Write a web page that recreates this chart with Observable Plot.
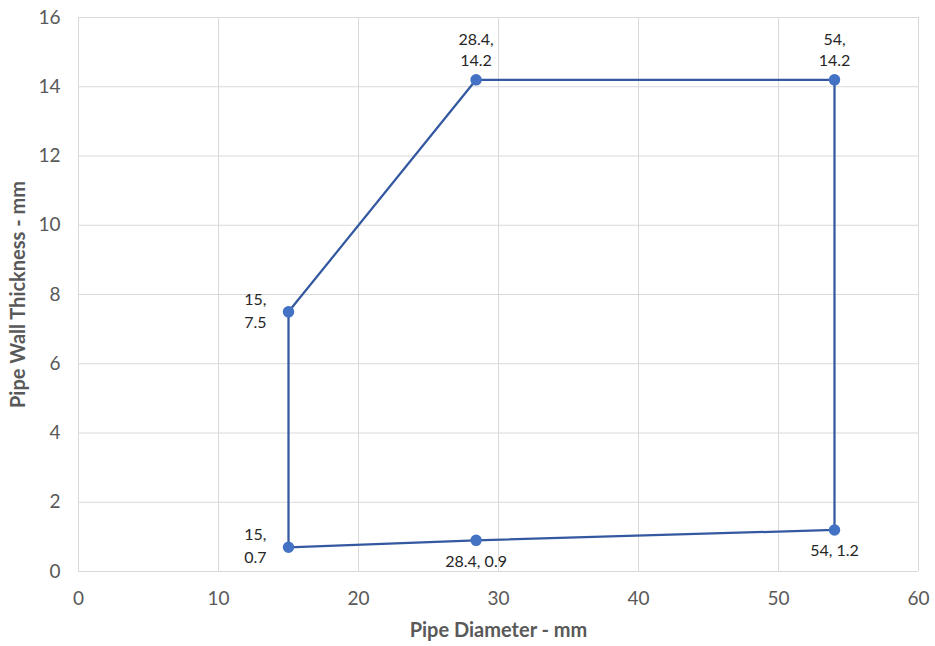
<!DOCTYPE html>
<html>
<head>
<meta charset="utf-8">
<script src="https://cdn.jsdelivr.net/npm/d3@7"></script>
<script src="https://cdn.jsdelivr.net/npm/@observablehq/plot@0.6"></script>
<style>
  html, body { margin: 0; padding: 0; background: #fff; }
  #chart svg { display: block; }
</style>
</head>
<body>
<div id="chart"></div>
<script>
// Data
const diameters = [15, 28.4, 54, 54, 28.4, 15];
const thicknesses = [7.5, 14.2, 14.2, 1.2, 0.9, 0.7];
const labels = ["15,\n7.5", "28.4,\n14.2", "54,\n14.2", "54, 1.2", "28.4, 0.9", "15,\n0.7"];
const labelPlacement = ["left", "above", "above", "below", "below", "left"];
const xTicks = [0, 10, 20, 30, 40, 50, 60];
const yTicks = [0, 2, 4, 6, 8, 10, 12, 14, 16];
const xTitle = "Pipe Diameter - mm";
const yTitle = "Pipe Wall Thickness - mm";

const points = diameters.map((d, i) => ({
  x: d, y: thicknesses[i], label: labels[i], place: labelPlacement[i]
}));

const font = "Lato, 'Open Sans', sans-serif";
const lineColor = "#3459A0";
const dotColor = "#4472C4";

const chart = Plot.plot({
  width: 935,
  height: 646,
  marginLeft: 78,
  marginRight: 17,
  marginTop: 17,
  marginBottom: 75,
  style: { fontFamily: font, background: "#fff" },
  x: { domain: [0, 60] },
  y: { domain: [0, 16] },
  marks: [
    Plot.gridX(xTicks, { stroke: "#d9d9d9", strokeOpacity: 1 }),
    Plot.gridY(yTicks, { stroke: "#d9d9d9", strokeOpacity: 1 }),
    Plot.axisX(xTicks, { tickSize: 0, tickPadding: 20, fontSize: 19, fill: "#595959", label: null }),
    Plot.axisY(yTicks, { tickSize: 0, tickPadding: 18, fontSize: 19, fill: "#595959", label: null }),
    Plot.line(points, { x: "x", y: "y", curve: "linear-closed", stroke: lineColor, strokeWidth: 2.25 }),
    Plot.dot(points, { x: "x", y: "y", r: 5, fill: dotColor, stroke: dotColor }),
    Plot.text(points.filter(d => d.place === "above"), {
      x: "x", y: "y", text: "label", lineAnchor: "bottom", dy: -14,
      fontSize: 16, lineHeight: 1.3, fill: "#262626"
    }),
    Plot.text(points.filter(d => d.place === "below"), {
      x: "x", y: "y", text: "label", lineAnchor: "top", dy: 15,
      fontSize: 16, fill: "#262626"
    }),
    Plot.text(points.filter(d => d.place === "left"), {
      x: "x", y: "y", text: "label", textAnchor: "end", lineAnchor: "middle", dx: -22, dy: -3,
      fontSize: 16, lineHeight: 1.45, fill: "#262626"
    }),
    Plot.text([xTitle], {
      text: d => d, frameAnchor: "bottom", textAnchor: "middle", dy: 65, fontSize: 20, fontWeight: "bold", fill: "#595959"
    }),
    Plot.text([yTitle], {
      text: d => d, frameAnchor: "left", textAnchor: "middle", dx: -60, rotate: -90, fontSize: 20, fontWeight: "bold", fill: "#595959"
    })
  ]
});

document.getElementById("chart").appendChild(chart);
</script>
</body>
</html>
